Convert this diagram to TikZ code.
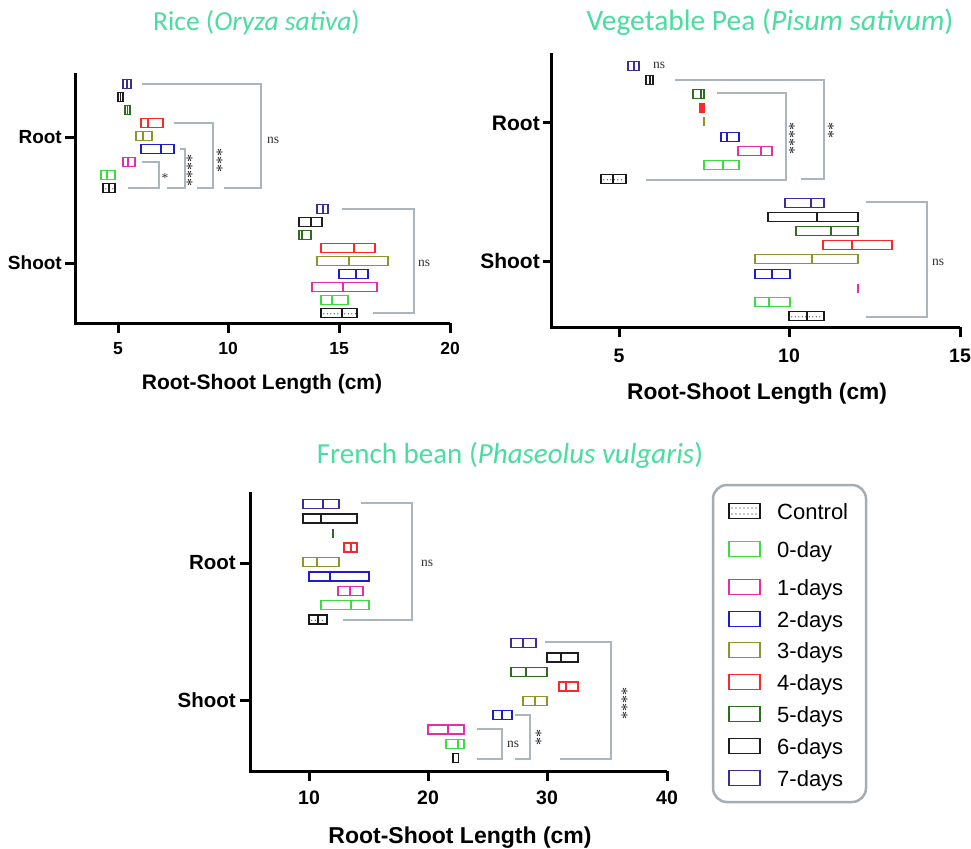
\documentclass[tikz,border=0pt]{standalone}
\usepackage{fontspec}
\setmainfont{Liberation Sans}
\newfontfamily\serifsig{Liberation Serif}
\newfontfamily\titlefont{Carlito}
\definecolor{ctitle}{RGB}{72,222,160}
\definecolor{cbr}{RGB}{170,181,188}
\definecolor{cd7}{RGB}{62,45,150}
\definecolor{cd6}{RGB}{30,30,30}
\definecolor{cd5}{RGB}{45,110,30}
\definecolor{cd4}{RGB}{250,40,40}
\definecolor{cd3}{RGB}{140,150,45}
\definecolor{cd2}{RGB}{30,30,200}
\definecolor{cd1}{RGB}{228,45,170}
\definecolor{cd0}{RGB}{60,220,60}
\definecolor{cctl}{RGB}{25,25,25}
\definecolor{clegbox}{RGB}{163,173,179}
\newcommand\fs[1]{\fontsize{#1}{#1}\selectfont}
\tikzset{
 axisline/.style={line width=3pt, black, line join=miter},
 tickline/.style={line width=3pt, black},
 barline/.style={line width=1.4pt},
 bracket/.style={cbr, line width=1.6pt},
 sig/.style={font=\serifsig\fs{13.5}, text=black!80, inner sep=0},
 stars/.style={font=\serifsig\fs{16}, text=black!85, rotate=90, inner sep=0},
 ticklab/.style={font=\bfseries\fs{#1}, inner sep=0},
 ylab/.style={font=\bfseries\fs{#1}, anchor=east, inner sep=0},
 axtitle/.style={font=\bfseries\fs{#1}, anchor=base, inner sep=0},
 ptitle/.style={font=\titlefont\fs{#1}, text=ctitle, anchor=base, inner sep=0},
 legtext/.style={font=\fs{22}, anchor=base west, inner sep=0},
}
\newcommand\bx[5]{\draw[barline,#1] (#2,#5-4.5) rectangle (#4,#5+4.5) (#3,#5-4.5) -- (#3,#5+4.5);}
\newcommand\bl[3]{\draw[barline,#1] (#2,#3-4.5) -- (#2,#3+4.5);}
\newcommand\ctl[4]{%
 \draw[barline,cctl] (#1,#4-4.5) rectangle (#3,#4+4.5) (#2,#4-4.5) -- (#2,#4+4.5);
 \pgfmathsetmacro\ca{#1+2.8}\pgfmathsetmacro\cb{#1+6.3}\pgfmathsetmacro\cc{#3-1.5}
 \foreach \xx in {\ca,\cb,...,\cc}{\fill[cctl] (\xx,#4+0.8) circle (0.6pt);}
}
\begin{document}
\begin{tikzpicture}[x=1pt,y=-1pt]
\useasboundingbox (0,0) rectangle (971,848);
\fill[white] (0,0) rectangle (971,848);
% ---------------- Titles
\node[ptitle=27.5] (t1) at (256.5,31) {Rice (\textit{Oryza sativa})};
\node[ptitle=29.5] (t2) at (770,31) {Vegetable Pea (\textit{Pisum sativum})};
\node[ptitle=29] (t3) at (510,463) {French bean (\textit{Phaseolus vulgaris})};
% ================= RICE
\draw[axisline] (75,73) -- (75,323) -- (450,323);
\foreach \x/\l in {118/5,228/10,339/15,450/20}{
  \draw[tickline] (\x,323) -- (\x,333);
  \node[ticklab=17.5] at (\x,348.5) {\l};}
\draw[tickline] (65,137) -- (75,137);
\draw[tickline] (65,263) -- (75,263);
\node[ylab=19] (rroot) at (62,137) {Root};
\node[ylab=19] (rshoot) at (62,263) {Shoot};
\node[axtitle=21] (rax) at (262,389) {Root-Shoot Length (cm)};
% root
\bx{cd7}{123}{127}{131}{84}
\bx{cd6}{118}{120.5}{123}{97}
\bx{cd5}{125}{127.5}{130}{110}
\bx{cd4}{141}{148}{163}{123}
\bx{cd3}{136}{143}{152}{136}
\bx{cd2}{141}{161}{174}{149}
\bx{cd1}{123}{128}{135}{162}
\bx{cd0}{101}{107}{115}{175}
\ctl{103}{109}{115}{188}
% shoot
\bx{cd7}{317}{323}{328}{209}
\bx{cd6}{299}{311}{322}{222}
\bx{cd5}{299}{302}{311}{235}
\bx{cd4}{321}{354}{375}{248}
\bx{cd3}{317}{349}{388}{261}
\bx{cd2}{339}{356}{368}{274}
\bx{cd1}{312}{343}{377}{287}
\bx{cd0}{321}{332}{348}{300}
\ctl{321}{342}{357}{313}
% brackets
\draw[bracket] (128,188) -- (159,188) -- (159,162) -- (142,162);
\node[sig] (rs1) at (165,178) {*};
\draw[bracket] (167,188) -- (185,188) -- (185,149) -- (180,149);
\node[stars] (rs2) at (192,170) {****};
\draw[bracket] (197,188) -- (213,188) -- (213,123) -- (174,123);
\node[stars] (rs3) at (222,160) {***};
\draw[bracket] (224,188) -- (261,188) -- (261,84) -- (142,84);
\node[sig] (rs4) at (273,140) {ns};
\draw[bracket] (342,209) -- (414,209) -- (414,313) -- (373,313);
\node[sig] (rs5) at (424,263) {ns};
% ================= PEA
\draw[axisline] (551,53) -- (551,327) -- (960,327);
\foreach \x/\l in {619/5,789/10,960/15}{
  \draw[tickline] (\x,327) -- (\x,337);
  \node[ticklab=19.5] at (\x,356) {\l};}
\draw[tickline] (543,123) -- (551,123);
\draw[tickline] (543,261) -- (551,261);
\node[ylab=21] (proot) at (540,123) {Root};
\node[ylab=21] (pshoot) at (540,261) {Shoot};
\node[axtitle=22.7] (pax) at (757,399) {Root-Shoot Length (cm)};
% root
\bx{cd7}{628}{634}{639}{66}
\bx{cd6}{646}{650}{653}{80}
\bx{cd5}{693}{701}{704}{94}
\bx{cd4}{700}{702}{704}{108}
\bl{cd3}{704}{122}
\bx{cd2}{721}{727}{739}{137}
\bx{cd1}{738}{761}{772}{151}
\bx{cd0}{704}{723}{739}{165}
\ctl{601}{613}{626}{179}
% shoot
\bx{cd7}{785}{811}{824}{203}
\bx{cd6}{768}{817}{858}{217}
\bx{cd5}{796}{831}{858}{231}
\bx{cd4}{823}{852}{892}{245}
\bx{cd3}{755}{812}{858}{259}
\bx{cd2}{755}{772}{790}{274}
\bl{cd1}{858}{288}
\bx{cd0}{755}{769}{790}{302}
\ctl{789}{807}{824}{316}
% brackets
\node[sig] (ps0) at (659,65) {ns};
\draw[bracket] (717,93) -- (786,93) -- (786,180) -- (646,180);
\node[stars] (ps1) at (794,138) {****};
\draw[bracket] (675,80) -- (824,80) -- (824,179) -- (801,179);
\node[stars] (ps2) at (833,131) {**};
\draw[bracket] (866,202) -- (927,202) -- (927,317) -- (866,317);
\node[sig] (ps3) at (938,262) {ns};
% ================= BEAN
\draw[axisline] (250,492) -- (250,771) -- (667,771);
\foreach \x/\l in {309/10,428/20,547/30,667/40}{
  \draw[tickline] (\x,771) -- (\x,781);
  \node[ticklab=19.5] at (\x,798) {\l};}
\draw[tickline] (240,563) -- (250,563);
\draw[tickline] (240,700) -- (250,700);
\node[ylab=20.5] (broot) at (236,563) {Root};
\node[ylab=20.5] (bshoot) at (236,700) {Shoot};
\node[axtitle=23] (bax) at (460,843) {Root-Shoot Length (cm)};
% root
\bx{cd7}{303}{323}{339}{504}
\bx{cd6}{303}{321}{357}{518.5}
\bl{cd5}{333}{533}
\bx{cd4}{344}{351}{357}{547.5}
\bx{cd3}{303}{317}{339}{562}
\bx{cd2}{309}{330}{369}{576.5}
\bx{cd1}{338}{350}{363}{591}
\bx{cd0}{321}{351}{369}{605}
\ctl{309}{318}{327}{619.5}
% shoot
\bx{cd7}{511}{523}{536}{643}
\bx{cd6}{547}{561}{578}{657.5}
\bx{cd5}{511}{526}{547}{672}
\bx{cd4}{559}{566}{578}{686.5}
\bx{cd3}{523}{535}{547}{701}
\bx{cd2}{493}{502}{512}{715}
\bx{cd1}{428}{448}{464}{729.5}
\bx{cd0}{446}{458}{464}{744}
\draw[barline,cctl,line width=1.8pt] (453,753.5) rectangle (458.5,762.5);
% brackets
\draw[bracket] (361,503) -- (412,503) -- (412,620) -- (343,620);
\node[sig] (bs1) at (427,563) {ns};
\draw[bracket] (477,729) -- (502,729) -- (502,759) -- (477,759);
\node[sig] (bs2) at (513,744) {ns};
\draw[bracket] (515,715) -- (530,715) -- (530,759) -- (515,759);
\node[stars] (bs3) at (541,737) {**};
\draw[bracket] (545,642) -- (611,642) -- (611,759) -- (560,759);
\node[stars] (bs4) at (627,703) {****};
% ================= LEGEND
\draw[clegbox, line width=2.5pt, rounded corners=14pt] (713,485) rectangle (866,802);
\draw[barline,cctl] (729,503.5) rectangle (760,518.5);
\foreach \yy in {508,514}{\foreach \xx in {732,736,...,758}{\fill[cctl] (\xx,\yy) circle (0.6pt);}}
\node[legtext] (lc) at (777,519) {Control};
\foreach \c/\yy/\t in {cd0/549/0-day,cd1/587/1-days,cd2/619/2-days,cd3/650/3-days,cd4/682/4-days,cd5/714/5-days,cd6/746/6-days,cd7/778/7-days}{
  \draw[barline,\c] (729,\yy-7.5) rectangle (760,\yy+7.5);
  \node[legtext] at (777,\yy+8) {\t};}
\end{tikzpicture}
\end{document}
